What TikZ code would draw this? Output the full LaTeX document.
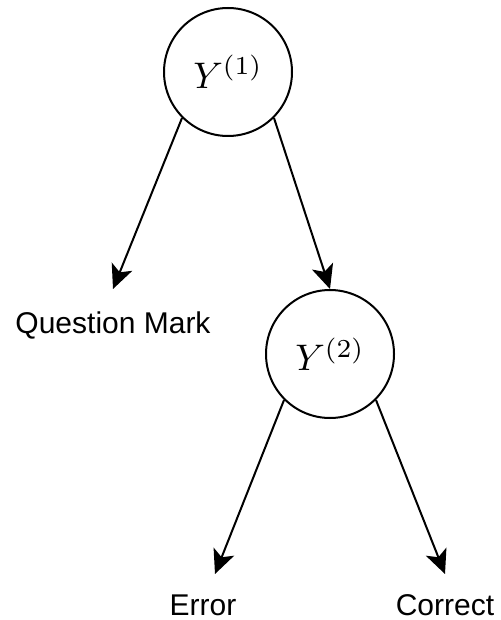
\documentclass[tikz,border=0pt]{standalone}
\usepackage{amsmath}
\usepackage{graphicx}
\usepackage{fontspec}
\setmainfont{Liberation Sans}
\usetikzlibrary{arrows.meta}
\newcommand{\bigmath}[1]{\scalebox{1.85}{$#1$}}

\begin{document}
\begin{tikzpicture}[x=0.5pt, y=-0.5pt, line width=1pt,
  >={Stealth[length=12pt,width=11pt,inset=3pt]},
  state/.style={circle,draw,minimum size=64pt,inner sep=0pt},
  lbl/.style={anchor=base,font=\fontsize{15}{18}\selectfont}]
  \useasboundingbox (0,0) rectangle (501,620);
  \node[state] (y1) at (228,72) {\bigmath{Y^{(1)}}};
  \node[state] (y2) at (330,354) {\bigmath{Y^{(2)}}};
  % arrow ends above the labels
  \coordinate (qtip) at (113,289);
  \coordinate (etip) at (215,574);
  \coordinate (ctip) at (445,574);
  \node[lbl] (qm) at (113,333) {Question Mark};
  \node[lbl] (err) at (203,615) {Error};
  \node[lbl] (cor) at (445,615) {Correct};
  \draw[->] (y1.south west) -- (qtip);
  \draw[->] (y1.south east) -- (y2.north);
  \draw[->] (y2.south west) -- (etip);
  \draw[->] (y2.south east) -- (ctip);
\end{tikzpicture}
\end{document}
